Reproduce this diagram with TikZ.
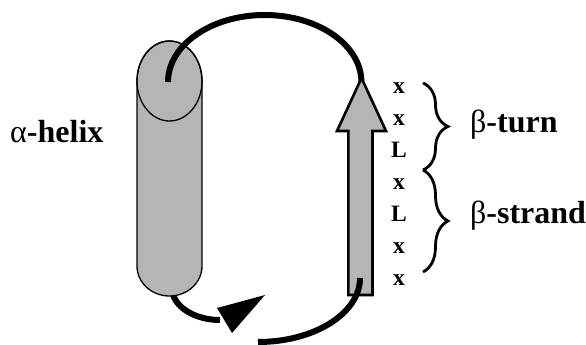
\documentclass[tikz,border=0pt]{standalone}
\usepackage{fontspec}
\setmainfont{Liberation Serif}
\usetikzlibrary{decorations.pathreplacing}
\definecolor{shade}{gray}{0.71}
\tikzset{
  loop/.style={line width=6pt, line cap=butt},
  body/.style={fill=shade, draw=black, line width=1.3pt},
  res/.style={anchor=base, font=\fontsize{23.5}{28}\selectfont\bfseries, inner sep=0pt},
  lab/.style={anchor=base west, font=\fontsize{32}{38}\selectfont\bfseries, inner sep=0pt},
  brc/.style={decorate, decoration={brace, amplitude=25pt}, line width=2.8pt}
}
\begin{document}
\begin{tikzpicture}[x=1pt, y=-1pt]
\useasboundingbox (0,0) rectangle (586,345);
% lower-left loop (behind helix)
\draw[loop] (172,288) arc[start angle=180, end angle=90, x radius=48, y radius=32];
\fill (217,308) -- (265,295) -- (232,333) -- cycle;
% helix cylinder
\path[body] (137,81) arc[start angle=180, end angle=360, x radius=32.5, y radius=40]
  -- (202,266) arc[start angle=0, end angle=180, x radius=32.5, y radius=30] -- cycle;
\draw[line width=1.3pt] (169.5,81) ellipse[x radius=32.5, y radius=40];
% top loop
\draw[loop] (168,82) arc[start angle=180, end angle=360, x radius=96.7, y radius=67];
% strand arrow
\path[body, line width=2.6pt, line join=miter] (348.3,295) -- (348.3,131) -- (337,131) -- (361.5,78)
  -- (386,131) -- (372.5,131) -- (372.5,295) -- cycle;
% bottom loop
\draw[loop] (258,342) arc[start angle=90, end angle=0, x radius=102, y radius=64];
% residues
\node[res] (r1) at (399,93) {x};
\node[res] (r2) at (399,125) {x};
\node[res] (r3) at (399,157) {L};
\node[res] (r4) at (399,189) {x};
\node[res] (r5) at (399,221) {L};
\node[res] (r6) at (399,253) {x};
\node[res] (r7) at (399,285) {x};
% braces
\coordinate (b1) at (423,83);
\coordinate (b2) at (423,170);
\coordinate (b3) at (423,272);
\draw[brc] (b1) -- (b2);
\draw[brc] (b2) -- (b3);
% labels
\node[lab] (turn) at (470,132) {{\mdseries β}-turn};
\node[lab] (strand) at (470,223) {{\mdseries β}-strand};
\node[lab] (helix) at (10,142) {{\mdseries α}-helix};
\end{tikzpicture}
\end{document}
